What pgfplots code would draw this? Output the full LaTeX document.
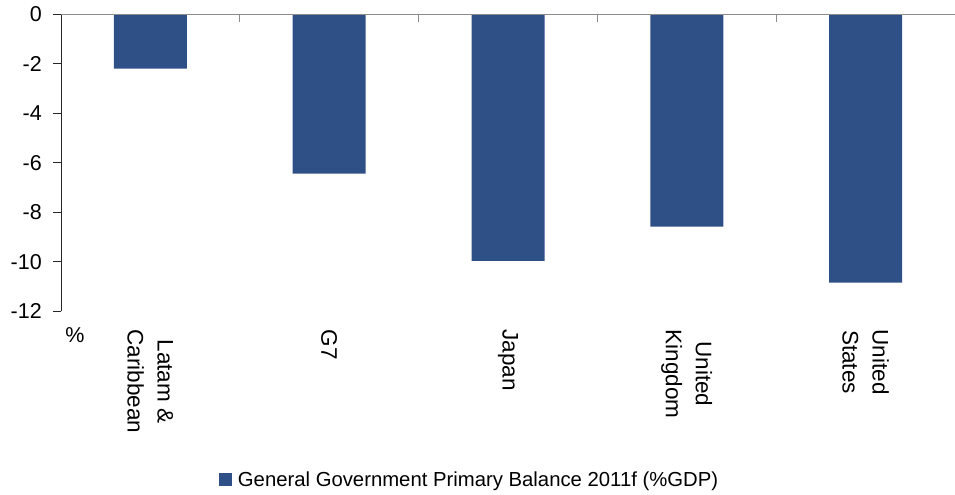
\documentclass[border=0pt]{standalone}
\usepackage{fontspec}
\setmainfont{Liberation Sans}
\usepackage{pgfplots}
\pgfplotsset{compat=1.18}
\definecolor{barblue}{RGB}{47,80,135}
\begin{document}
\begin{tikzpicture}
\begin{axis}[
  at={(0,0)}, anchor=south west,
  scale only axis, width=894pt, height=297pt,
  xmin=-0.5, xmax=4.5, ymin=-12, ymax=0,
  axis x line*=bottom, axis y line*=left,
  x axis line style={draw=none},
  y axis line style={draw=black!85, line width=0.9pt},
  xtick={0,1,2,3,4},
  xticklabels={{Latam \&\\Caribbean},{G7},{Japan},{United\\Kingdom},{United\\States}},
  xtick style={draw=none},
  xticklabel style={rotate=-90, anchor=west, align=center, inner sep=0pt, font=\fontsize{22.5}{30}\selectfont},
  xticklabel shift=18pt,
  ytick={-12,-10,...,0},
  ytick pos=left,
  ytick style={draw=black!85, line width=0.9pt},
  ytick align=outside,
  major tick length=8pt,
  yticklabel style={anchor=east, inner sep=0pt, font=\fontsize{21.5}{25}\selectfont},
  yticklabel shift=11pt,
  /pgf/number format/assume math mode=true,
  legend style={at={(0.457,-0.566)}, anchor=center, draw=none, fill=none,
    font=\fontsize{20.3}{24}\selectfont, inner sep=0pt},
  legend image code/.code={\fill[barblue] (0pt,-6.5pt) rectangle (13pt,6.5pt);},
  legend cell align=left,
  legend style={/tikz/every even column/.append style={column sep=0pt}},
  clip=false,
]
\addplot[ybar, bar width=73pt, fill=barblue, draw=none]
  coordinates {(0,-2.2) (1,-6.44) (2,-9.96) (3,-8.58) (4,-10.84)};
\addlegendentry{\hspace{4pt}General Government Primary Balance 2011f (\%GDP)}
\node[font=\fontsize{21.5}{25}\selectfont, anchor=center] at (rel axis cs:0,0) [xshift=14pt, yshift=-23.5pt] {\%};
\end{axis}
\begin{axis}[
  at={(0,0)}, anchor=south west,
  scale only axis, width=894pt, height=297pt,
  xmin=-0.5, xmax=4.5, ymin=-12, ymax=0,
  axis x line*=top, axis y line=none,
  x axis line style={draw=gray!90, line width=1pt},
  xtick={0.5,1.5,2.5,3.5},
  xticklabels={},
  xtick align=inside,
  major tick length=8pt,
  xtick style={draw=gray!90, line width=1pt},
]
\end{axis}
\pgfresetboundingbox
\path[use as bounding box] (-61pt,-183pt) rectangle (894pt,311.3pt);
\end{tikzpicture}
\end{document}
